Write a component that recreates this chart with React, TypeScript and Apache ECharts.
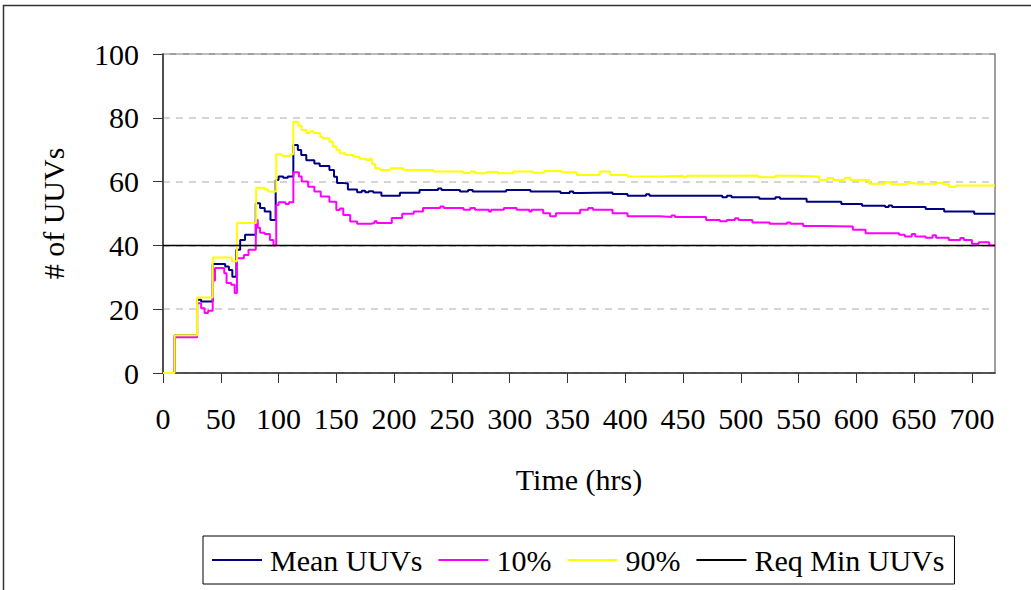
import React, { useEffect, useRef } from "react";
import * as echarts from "echarts";

// [time (hrs), # of UUVs] — step breakpoints
const meanUUVs: [number, number][] = [
  [0, 0], [10, 11.8], [29.5, 23], [33, 22.4], [43, 34.2], [53.8, 33.4], [57, 32.3], [60, 30.2],
  [63.5, 38.6], [66.8, 41.7], [71, 43.3], [80.3, 53.2], [84, 51.7], [88, 50.6], [93, 48],
  [97.5, 60.5], [100, 61.6], [104, 61.2], [108, 61.6], [112.8, 71.5], [116.7, 69.9], [119.6, 68.3],
  [124, 66.7], [131, 65.7], [135.6, 64.9], [144, 63.6], [148, 61.5], [150.6, 59.6], [155, 59.4],
  [160, 57.5], [168, 56.7], [172, 57.1], [175, 56.7], [178, 57], [182, 56.6], [189, 55.6],
  [205, 56.5], [222, 57.4], [238, 57.8], [241, 57.4], [257, 56.9], [264, 57.4], [268, 56.9],
  [297, 57.4], [318, 56.9], [344, 56.4], [352, 56.9], [355, 56.4], [361, 56.6], [389, 56.1],
  [402, 55.6], [418, 56], [421, 55.6], [484, 55.1], [488, 55.6], [492, 55.1], [516, 54.6],
  [530, 55.1], [534, 54.6], [557, 53.7], [587, 53], [605, 52.4], [625, 52], [628, 52.5],
  [631, 52], [660, 51.4], [676, 50.6], [702, 49.9], [720, 49.9]
];

const p10: [number, number][] = [
  [0, 0], [10, 11.2], [29.5, 21.9], [33, 20.3], [36, 18.8], [39, 19.5], [43, 29], [45, 32.9],
  [53, 31.3], [55, 28.2], [59, 27.7], [62, 25.1], [64, 36], [70, 37], [74, 38.6], [80.3, 48],
  [82, 45.5], [84, 44], [88, 43.6], [92.5, 41.7], [95.6, 40], [98, 52.7], [100, 53.5],
  [106, 53], [109, 53.5], [112.8, 62.9], [117.6, 61.6], [120, 60], [125.6, 58.4], [131, 56.9],
  [136.5, 55.3], [144, 53.7], [150, 51.1], [153, 51.6], [156, 49.5], [162, 47.5], [168, 46.8],
  [180, 47], [183, 47.6], [185, 47], [198, 48.6], [207, 49.9], [217, 50.6], [225, 51.7],
  [240, 52.2], [243, 51.7], [260, 51.2], [266, 51.7], [270, 51.2], [282, 50.6], [284, 51.2],
  [295, 51.7], [306, 51.2], [317, 50.6], [319, 51.2], [329, 50.1], [335, 49.1], [340, 50.1],
  [361, 51.2], [368, 51.7], [372, 51.2], [389, 50.1], [402, 49.1], [430, 48.9], [440, 49.4],
  [443, 48.9], [470, 48], [482, 47.6], [488, 48], [495, 48.5], [498, 48], [510, 47.2],
  [525, 46.8], [540, 47.2], [543, 46.8], [554, 46.1], [571, 45.9], [597, 44.9], [608, 43.8],
  [637, 43.3], [642, 42.8], [648, 43.6], [651, 42.8], [660, 42.4], [666, 43.2], [669, 42.4],
  [680, 41.7], [690, 42.3], [693, 41.7], [700, 40.5], [706, 41], [715, 40], [720, 40]
];

const p90: [number, number][] = [
  [0, 0], [10, 11.8], [29.5, 23.7], [43, 36.2], [59.6, 35], [64, 47], [80.6, 58.1], [88, 57.5],
  [91, 56.9], [98, 68.6], [103, 68], [110, 68.6], [112.8, 78.8], [117, 77.5], [120, 76.2],
  [124, 75.2], [127, 75.8], [130, 75.2], [136, 74], [138, 73.6], [144, 72.5], [147, 71],
  [150, 70], [153, 68.9], [158, 68.3], [164.7, 67.8], [170, 67.2], [176, 66.8], [179, 67.2],
  [181, 65.5], [183.5, 64.2], [188, 63.6], [197, 64.2], [208, 63.6], [234, 63.2], [260, 62.7],
  [266, 63.2], [270, 62.6], [280, 63], [290, 62.6], [303, 63.2], [320, 62.8], [330, 63.3],
  [345, 62.9], [358, 62.1], [378, 63.2], [387, 62.1], [402, 61.6], [430, 61.8], [450, 61.4],
  [453, 61.8], [470, 61.8], [500, 61.9], [515, 61.4], [530, 61.8], [545, 61.6], [568, 60.5],
  [575, 61.1], [580, 60.5], [590, 61.2], [595, 60.5], [611, 59.3], [625, 59.8], [630, 59.2],
  [645, 59.6], [650, 59.3], [670, 59.6], [675, 59.2], [680, 58.3], [686, 58.8], [720, 58.8]
];

const reqMin = 40;
const xMax = 720;
const yTicks = { min: 0, max: 100, interval: 20 };
const xTicks = { min: 0, max: xMax, interval: 50 };
const reqMinLine: [number, number][] = [[0, reqMin], [xMax, reqMin]];

const FONT = '"Liberation Serif", "Times New Roman", serif';

export default function App() {
  const ref = useRef<HTMLDivElement>(null);
  useEffect(() => {
    if (!ref.current) return;
    const chart = echarts.init(ref.current, undefined, { renderer: "svg" });
    const lineSeries = (name: string, data: [number, number][], color: string, width: number) => ({
      name,
      type: "line",
      data,
      step: "end",
      symbol: "none",
      lineStyle: { color, width },
      itemStyle: { color },
      z: 3,
    });
    chart.setOption({
      animation: false,
      backgroundColor: "#ffffff",
      textStyle: { fontFamily: FONT, color: "#000" },
      graphic: [
        {
          type: "rect",
          shape: { x: 3.5, y: 5.5, width: 1200, height: 800 },
          style: { fill: "none", stroke: "#333", lineWidth: 1.5 },
          silent: true,
        },
      ],
      grid: {
        left: 163,
        top: 54,
        right: 36,
        bottom: 217,
        show: true,
        borderColor: "#808080",
        borderWidth: 1.5,
        backgroundColor: "#fff",
      },
      legend: {
        left: 203,
        top: 536,
        padding: [9, 10, 9, 9],
        itemGap: 16,
        itemWidth: 50,
        itemHeight: 2,
        icon: "rect",
        borderColor: "#000",
        borderWidth: 1,
        textStyle: { fontFamily: FONT, fontSize: 30, color: "#000", padding: [0, 0, 0, 3] },
        data: ["Mean UUVs", "10%", "90%", "Req Min UUVs"],
      },
      xAxis: {
        type: "value",
        min: xTicks.min,
        max: xTicks.max,
        interval: xTicks.interval,
        name: "Time (hrs)",
        nameLocation: "middle",
        nameGap: 91,
        nameTextStyle: { fontFamily: FONT, fontSize: 30, color: "#000" },
        axisLine: { show: true, onZero: false, lineStyle: { color: "#333", width: 1.5 } },
        axisTick: { show: true, length: 10, lineStyle: { color: "#333", width: 1 } },
        axisLabel: {
          fontFamily: FONT,
          fontSize: 30,
          color: "#000",
          margin: 30,
          showMaxLabel: false,
          formatter: (v: number) => (v > 700 ? "" : String(v)),
        },
        splitLine: { show: false },
      },
      yAxis: {
        type: "value",
        min: yTicks.min,
        max: yTicks.max,
        interval: yTicks.interval,
        name: "# of UUVs",
        nameLocation: "middle",
        nameGap: 95,
        nameTextStyle: { fontFamily: FONT, fontSize: 30, color: "#000" },
        axisLine: { show: true, lineStyle: { color: "#333", width: 1.5 } },
        axisTick: { show: true, length: 10, lineStyle: { color: "#333", width: 1 } },
        axisLabel: { fontFamily: FONT, fontSize: 30, color: "#000", margin: 24 },
        splitLine: { show: true, lineStyle: { color: "#c8c8c8", width: 1.5, type: [7, 6] } },
      },
      series: [
        lineSeries("Mean UUVs", meanUUVs, "#000080", 2),
        lineSeries("10%", p10, "#ff00ff", 2),
        lineSeries("90%", p90, "#ffff00", 2),
        { ...lineSeries("Req Min UUVs", reqMinLine, "#000000", 1.5), step: false, z: 4 },
      ],
    });
    return () => chart.dispose();
  }, []);
  return (
    <div
      ref={ref}
      style={{ position: "fixed", left: 0, top: 0, width: 1031, height: 590, background: "#fff" }}
    />
  );
}
